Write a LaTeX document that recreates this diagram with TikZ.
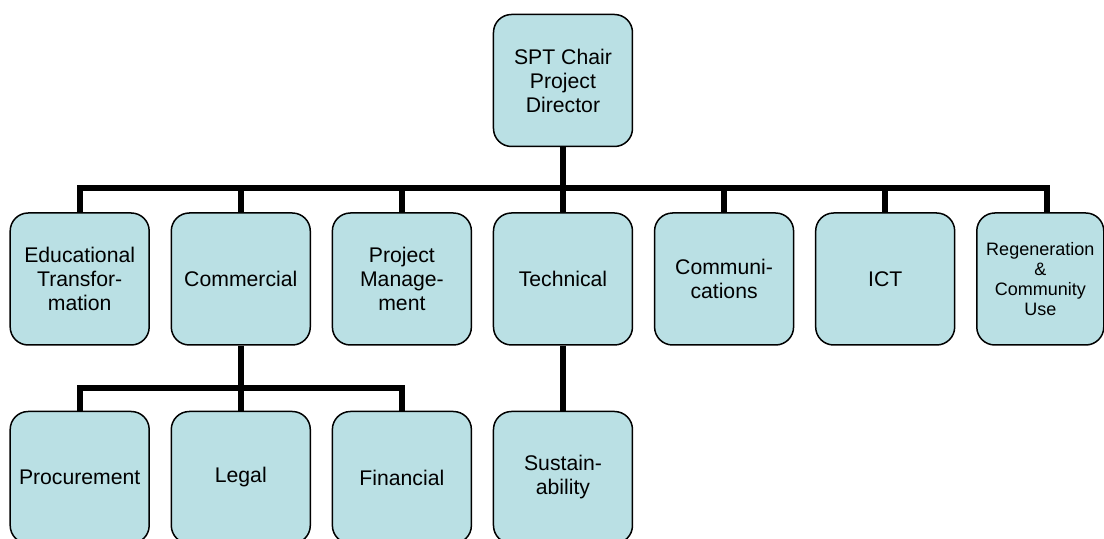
\documentclass[tikz,border=0pt]{standalone}
\usepackage{fontspec}
\setmainfont{Liberation Sans}
\usepackage{tikz}
\usetikzlibrary{matrix}
\definecolor{boxfill}{RGB}{186,224,228}

\begin{document}
\begin{tikzpicture}[-
	,bus/.style={line width=3pt}
	,semithick]
  \tikzstyle{unit}=[draw,line width=0.75pt,rounded corners=9pt,fill=boxfill
	,minimum width=69.5pt,minimum height=66pt,align=center,inner sep=1pt
	,font=\fontsize{10.6}{12}\selectfont]

      \matrix (m) [row sep=32.5pt,column sep=10.3pt]
      {
      %top box
	&	&	&
	\node[unit](chair) {SPT Chair\\Project\\Director};	&
	&	&	\\
	%7 departments
	\node[unit](edu) {Educational\\Transfor-\\mation};	&
	\node[unit](com) {Commercial};				&
	\node[unit](pm) {Project\\Manage-\\ment};		&
	\node[unit](tech) {Technical};				&
	\node[unit](comm) {Communi-\\cations};		&
	\node[unit](ict) {ICT};					&
	\node[unit,minimum width=63.5pt
	  ,font=\fontsize{9}{10}\selectfont](reg) {Regeneration\\\&\\Community\\Use};	\\
	%sub teams btm
	\node[unit](proc) {Procurement};			&
	\node[unit](legal) {Legal};				&
	\node[unit](fin) {Financial};				&
	\node[unit](sust) {Sustain-\\ability};		&
	&	&	\\
      };

  \draw[bus] (chair.south) -- ++(0,-20.5pt) coordinate (hub);
  \foreach \n in {edu,com,pm,tech,comm,ict}
	\draw[bus] (hub) -| (\n.north);
  \draw[bus] (hub) -| ([xshift=3.5pt]reg.north);

  \draw[bus] (com.south) -- ++(0,-21pt) coordinate (hub2);
  \foreach \n in {proc,legal,fin}
	\draw[bus] (hub2) -| (\n.north);
  \draw[bus] (tech.south) -- (sust.north);

  \pgfresetboundingbox
  \path[use as bounding box] ([shift={(-281.5pt,40.25pt)}]chair.center) rectangle ++(552pt,-269.5pt);
\end{tikzpicture}
\end{document}
